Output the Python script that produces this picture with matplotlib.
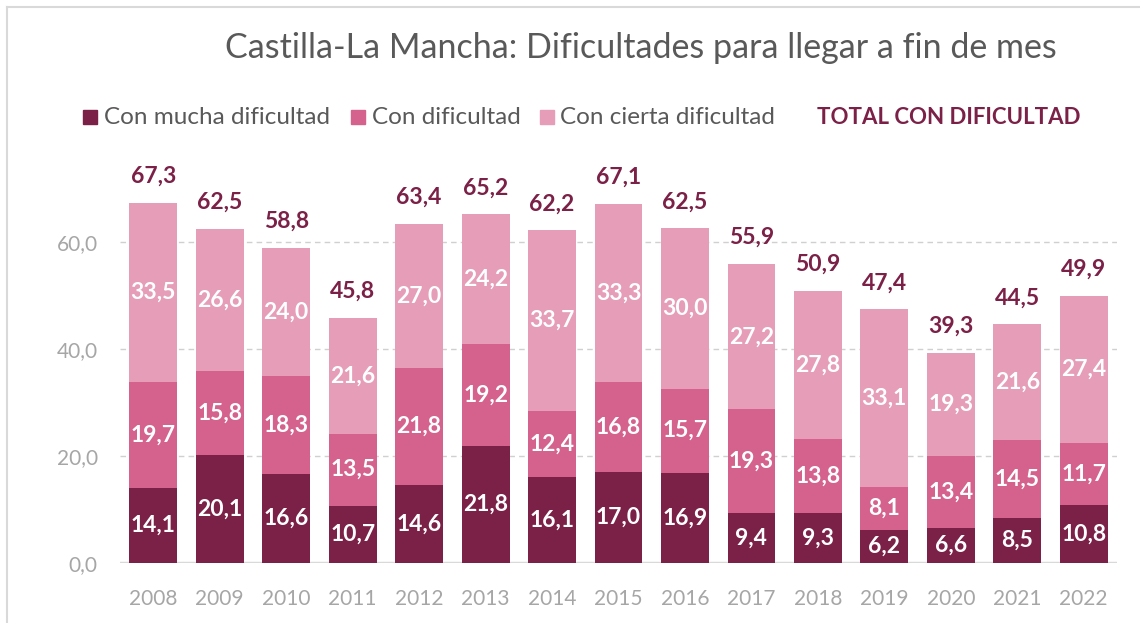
import matplotlib
matplotlib.use("Agg")
import matplotlib.pyplot as plt
from matplotlib.lines import Line2D
from matplotlib.patches import Rectangle
import numpy as np

years = ["2008", "2009", "2010", "2011", "2012", "2013", "2014", "2015",
         "2016", "2017", "2018", "2019", "2020", "2021", "2022"]
mucha = [14.1, 20.1, 16.6, 10.7, 14.6, 21.8, 16.1, 17.0, 16.9, 9.4, 9.3, 6.2, 6.6, 8.5, 10.8]
con = [19.7, 15.8, 18.3, 13.5, 21.8, 19.2, 12.4, 16.8, 15.7, 19.3, 13.8, 8.1, 13.4, 14.5, 11.7]
cierta = [33.5, 26.6, 24.0, 21.6, 27.0, 24.2, 33.7, 33.3, 30.0, 27.2, 27.8, 33.1, 19.3, 21.6, 27.4]
total = [67.3, 62.5, 58.8, 45.8, 63.4, 65.2, 62.2, 67.1, 62.5, 55.9, 50.9, 47.4, 39.3, 44.5, 49.9]

series_names = ["Con mucha dificultad", "Con dificultad", "Con cierta dificultad"]
colors = ["#7B2046", "#D5628C", "#E59DB8"]
total_label = "TOTAL CON DIFICULTAD"
title = "Castilla-La Mancha: Dificultades para llegar a fin de mes"

plt.rcParams['font.family'] = ['Lato', 'DejaVu Sans']

def fmt(v):
    return f"{v:.1f}".replace(".", ",")

fig = plt.figure(figsize=(11.4, 6.23), dpi=100)
ax = fig.add_axes([0.1053, 0.0963, 0.8745, 0.644])

x = np.arange(len(years))
w = 0.72
bottom = np.zeros(len(years))
for vals, col in zip([mucha, con, cierta], colors):
    vals = np.array(vals)
    ax.bar(x, vals, w, bottom=bottom, color=col, zorder=3)
    for xi, b, v in zip(x, bottom, vals):
        ax.text(xi, b + v / 2, fmt(v), ha='center', va='center', color='white',
                fontsize=16.5, fontweight='bold', zorder=4)
    bottom = bottom + vals

for xi, t, top in zip(x, total, bottom):
    ax.annotate(fmt(t), (xi, top), xytext=(0, 19), textcoords='offset points',
                ha='center', va='center', color='#7B2046', fontsize=16.5, fontweight='bold')

ax.set_xlim(-0.5, len(years) - 0.5)
ax.set_ylim(0, 75)
ax.set_yticks([0, 20, 40, 60])
ax.set_yticklabels([fmt(v) for v in [0, 20, 40, 60]])
ax.set_xticks(x)
ax.set_xticklabels(years)
for s in ax.spines.values():
    s.set_visible(False)
ax.tick_params(axis='both', length=0, labelsize=15, labelcolor='#A6A6A6')
ax.tick_params(axis='y', pad=16)
ax.tick_params(axis='x', pad=19)
for yv in [20, 40, 60]:
    ax.axhline(yv, color='#D0D0D0', lw=1, ls=(0, (4, 3)), zorder=1)
ax.axhline(0, color='#D9D9D9', lw=2.5, zorder=2)

fig.text(0.562, 0.923, title, ha='center', va='center', fontsize=24.5, color='#595959')

# legend
ly = 0.812
sq_x = [0.0725, 0.3079, 0.4737]
txt_x = [0.0912, 0.3263, 0.4912]
sw, sh = 14 / 1140, 14 / 623
for sx, tx, name, col in zip(sq_x, txt_x, series_names, colors):
    fig.patches.append(Rectangle((sx, ly - sh / 2), sw, sh, transform=fig.transFigure,
                                 color=col, figure=fig))
    fig.text(tx, ly, name, ha='left', va='center', fontsize=17.5, color='#595959')
fig.text(0.7167, ly, total_label, ha='left', va='center', fontsize=16, fontweight='bold',
         color='#7B2046')

# frame lines (cropped chart border)
fig.lines.append(Line2D([0.006, 1.0], [0.989, 0.989], transform=fig.transFigure,
                        color='#D9D9D9', lw=1.5))
fig.lines.append(Line2D([0.006, 0.006], [0.0, 0.989], transform=fig.transFigure,
                        color='#D9D9D9', lw=1.5))

fig.savefig("out.png", dpi=100)
